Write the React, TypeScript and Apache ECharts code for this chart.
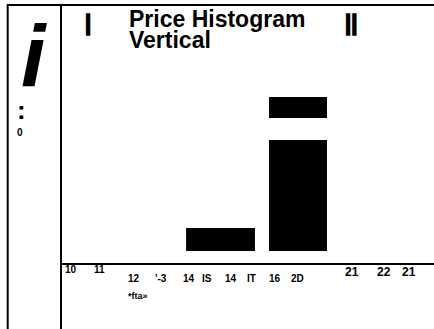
import React, { useEffect, useRef } from "react";
import * as echarts from "echarts";

// ---- data ----
const titleLines = ["Price Histogram", "Vertical"];
const binStart = [14.36, 17.25, 17.25];
const binEnd = [16.76, 19.27, 19.27];
const lowValue = [4.8, 4.8, 56.3];
const highValue = [13.7, 47.8, 64.4];
const tickLabels = ["10", "11", "12", "'-3", "14", "IS", "14", "IT", "16", "2D", "21", "22", "21"];
const axisName = "*fta»";
const sideMarks = [":", "0"];

// ---- layout (pixels) ----
const tickLayout = [
  [65, 269, 10], [94, 269, 10], [128, 278, 10], [155, 278, 10], [183, 278, 10],
  [202, 278, 10], [225, 278, 10], [247, 278, 10], [269, 278, 10], [291, 278, 10],
  [345, 272, 12], [377, 272, 12], [402, 272, 12],
];

const FONT = "'Liberation Sans', Arial, sans-serif";

export default function App() {
  const ref = useRef<HTMLDivElement>(null);
  useEffect(() => {
    if (!ref.current) return;
    const chart = echarts.init(ref.current, null, { renderer: "svg" });
    const data = binStart.map((s, i) => [s, binEnd[i], lowValue[i], highValue[i]]);
    const texts: any[] = tickLabels.map((t, i) => ({
      type: "text",
      x: tickLayout[i][0],
      y: tickLayout[i][1],
      style: {
        text: t,
        fill: "#000",
        font: `bold ${tickLayout[i][2]}px ${FONT}`,
        verticalAlign: "middle",
        align: "left",
      },
    }));
    texts.push({
      type: "text", x: 128, y: 296,
      style: { text: axisName, fill: "#000", font: `bold 9px ${FONT}`, verticalAlign: "middle", align: "left" },
    });
    texts.push({
      type: "text", x: 17, y: 110,
      style: { text: sideMarks[0], fill: "#000", font: `bold 26px ${FONT}`, verticalAlign: "middle", align: "left" },
    });
    texts.push({
      type: "text", x: 17, y: 132.5,
      style: { text: sideMarks[1], fill: "#000", font: `bold 10px ${FONT}`, verticalAlign: "middle", align: "left" },
    });
    texts.push({
      type: "text", x: 21, y: 55,
      style: { text: "i", fill: "#000", font: `italic bold 88px ${FONT}`, lineHeight: 70, verticalAlign: "middle", align: "left" },
    });
    texts.push({
      type: "text", x: 85, y: 22.5,
      style: { text: "|", fill: "#000", stroke: "#000", lineWidth: 1.5, font: `bold 22px ${FONT}`, verticalAlign: "middle", align: "left" },
    });
    texts.push({
      type: "text", x: 345, y: 22.5,
      style: { text: "||", fill: "#000", stroke: "#000", lineWidth: 1.5, font: `bold 22px ${FONT}`, verticalAlign: "middle", align: "left" },
    });
    const lines = [
      { type: "line", shape: { x1: 7, y1: 5, x2: 434, y2: 5 }, style: { stroke: "#000", lineWidth: 2 } },
      { type: "line", shape: { x1: 7.7, y1: 4, x2: 7.7, y2: 329 }, style: { stroke: "#000", lineWidth: 2 } },
      { type: "line", shape: { x1: 61, y1: 4, x2: 61, y2: 329 }, style: { stroke: "#000", lineWidth: 2 } },
    ];
    chart.setOption({
      animation: false,
      backgroundColor: "#fff",
      title: {
        text: titleLines.join("\n"),
        left: 129,
        top: 8,
        padding: 0,
        textStyle: { fontFamily: FONT, fontWeight: "bold", fontSize: 23, lineHeight: 21, color: "#000" },
      },
      grid: { left: 61, right: 0, top: 5, bottom: 65.5 },
      xAxis: {
        type: "value", min: 10, max: 23,
        axisLine: { show: true, onZero: false, lineStyle: { color: "#000", width: 2 } },
        axisTick: { show: false }, axisLabel: { show: false }, splitLine: { show: false },
      },
      yAxis: {
        type: "value", min: 0, max: 100,
        axisLine: { show: false }, axisTick: { show: false }, axisLabel: { show: false }, splitLine: { show: false },
      },
      series: [
        {
          type: "custom",
          data,
          encode: { x: [0, 1], y: [2, 3] },
          renderItem: (params: any, api: any) => {
            const a = api.coord([api.value(0), api.value(3)]);
            const b = api.coord([api.value(1), api.value(2)]);
            return {
              type: "rect",
              shape: { x: a[0], y: a[1], width: b[0] - a[0], height: b[1] - a[1] },
              style: { fill: "#000" },
            };
          },
        },
      ],
      graphic: [...lines, ...texts],
    });
    return () => chart.dispose();
  }, []);
  return <div ref={ref} style={{ position: "fixed", left: 0, top: 0, width: 434, height: 329 }} />;
}
